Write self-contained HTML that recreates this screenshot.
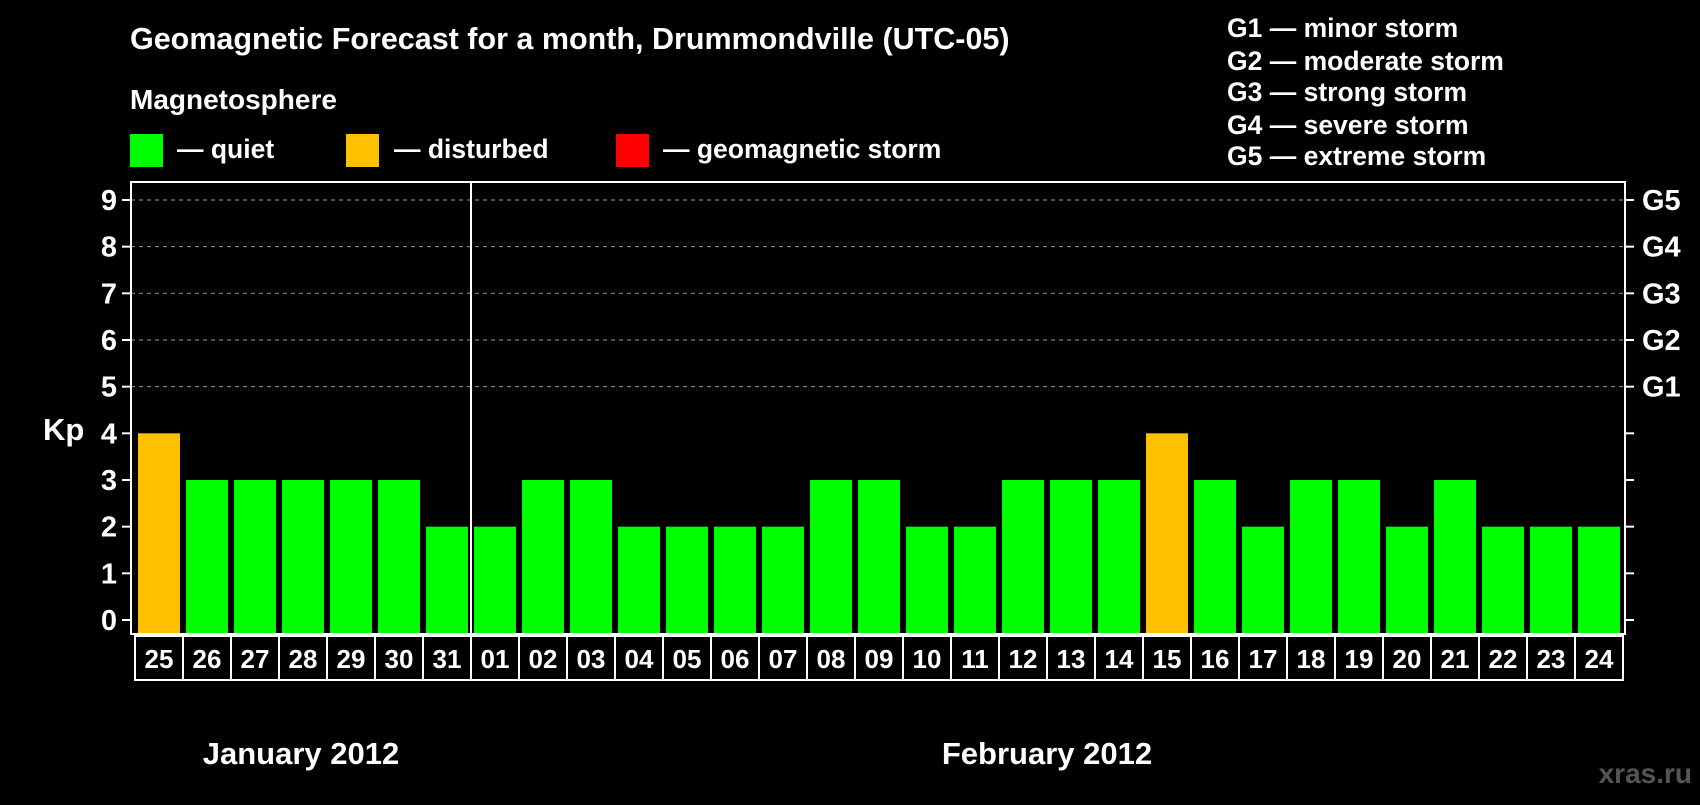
<!DOCTYPE html>
<html><head><meta charset="utf-8"><style>
body{margin:0;background:#000;width:1700px;height:800px;overflow:hidden;font-family:"Liberation Sans",Arial,sans-serif;font-weight:bold;color:#fff}
svg text{font-family:"Liberation Sans",Arial,sans-serif;font-weight:bold;fill:#fff}
</style></head><body>
<svg id="chart" width="1700" height="800" xmlns="http://www.w3.org/2000/svg">
<text x="130" y="49" font-size="30.5">Geomagnetic Forecast for a month, Drummondville (UTC-05)</text>
<text x="130" y="109" font-size="28">Magnetosphere</text>
<rect x="130" y="134" width="33" height="33" fill="#00ff00"/>
<text x="177" y="158" font-size="26.5">— quiet</text>
<rect x="346" y="134" width="33" height="33" fill="#ffc000"/>
<text x="394" y="158" font-size="26.5">— disturbed</text>
<rect x="616" y="134" width="33" height="33" fill="#ff0000"/>
<text x="663" y="158" font-size="26.5">— geomagnetic storm</text>
<g font-size="26.5">
<text x="1227" y="37">G1 — minor storm</text>
<text x="1227" y="70">G2 — moderate storm</text>
<text x="1227" y="101">G3 — strong storm</text>
<text x="1227" y="134">G4 — severe storm</text>
<text x="1227" y="165">G5 — extreme storm</text>
</g>
<text x="43" y="440" font-size="31">Kp</text>
<g id="plot"></g>
<text x="301" y="764" font-size="31" text-anchor="middle">January 2012</text>
<text x="1047" y="764" font-size="31" text-anchor="middle">February 2012</text>
<text x="1692" y="783" font-size="28" text-anchor="end" style="fill:#555">xras.ru</text>
</svg>
<script>
const days=["25","26","27","28","29","30","31","01","02","03","04","05","06","07","08","09","10","11","12","13","14","15","16","17","18","19","20","21","22","23","24"];
const kpValues=[4,3,3,3,3,3,2,2,3,3,2,2,2,2,3,3,2,2,3,3,3,4,3,2,3,3,2,3,2,2,2];
const yTicks=[0,1,2,3,4,5,6,7,8,9];
const gLabels=["G1","G2","G3","G4","G5"];
const NS="http://www.w3.org/2000/svg";
const plotG=document.getElementById('plot');
const pLeft=131,pRight=1625,pTop=182,pBottom=634;
const yS=v=>620-v*46.67;
const xS=i=>135+i*48;
function mk(t,a){const e=document.createElementNS(NS,t);for(const k in a)e.setAttribute(k,a[k]);plotG.appendChild(e);return e;}
yTicks.forEach(v=>{
 if(v>=5){const l=mk('line',{x1:pLeft,x2:pRight,y1:yS(v),y2:yS(v),stroke:'#999','stroke-dasharray':'4,4','stroke-width':1});
 
 }
 const t1=mk('line',{x1:pLeft-9,x2:pLeft,y1:yS(v),y2:yS(v),stroke:'#fff','stroke-width':2});
 
 
 const t2=mk('line',{x1:pRight,x2:pRight+9,y1:yS(v),y2:yS(v),stroke:'#fff','stroke-width':2});
 
 
 const tx=mk('text',{x:117,y:yS(v)+10,'font-size':29,'text-anchor':'end'});tx.textContent=v;
 
 
});
gLabels.forEach((s,i)=>{const t=mk('text',{x:1642,y:yS(5+i)+10,'font-size':29});t.textContent=s;
 
 });
kpValues.forEach((v,i)=>{
 const col=v>=5?'#ff0000':(v>=4?'#ffc000':'#00ff00');
 const b=mk('rect',{x:xS(i)+3,y:yS(v),width:42,height:yS(0)-yS(v)+14,fill:col});
 
 
 const bx=mk('rect',{x:xS(i),y:636,width:48,height:44,fill:'none',stroke:'#fff','stroke-width':2});
 
 
 const t=mk('text',{x:xS(i)+24,y:668,'font-size':26,'text-anchor':'middle'});t.textContent=days[i];
 
 
});
const fr=mk('rect',{x:pLeft,y:pTop,width:pRight-pLeft,height:pBottom-pTop,fill:'none',stroke:'#fff','stroke-width':2});


const mi=days.indexOf("01");
const md=mk('line',{x1:xS(mi),x2:xS(mi),y1:pTop,y2:pBottom,stroke:'#fff','stroke-width':2});


</script>
</body></html>
